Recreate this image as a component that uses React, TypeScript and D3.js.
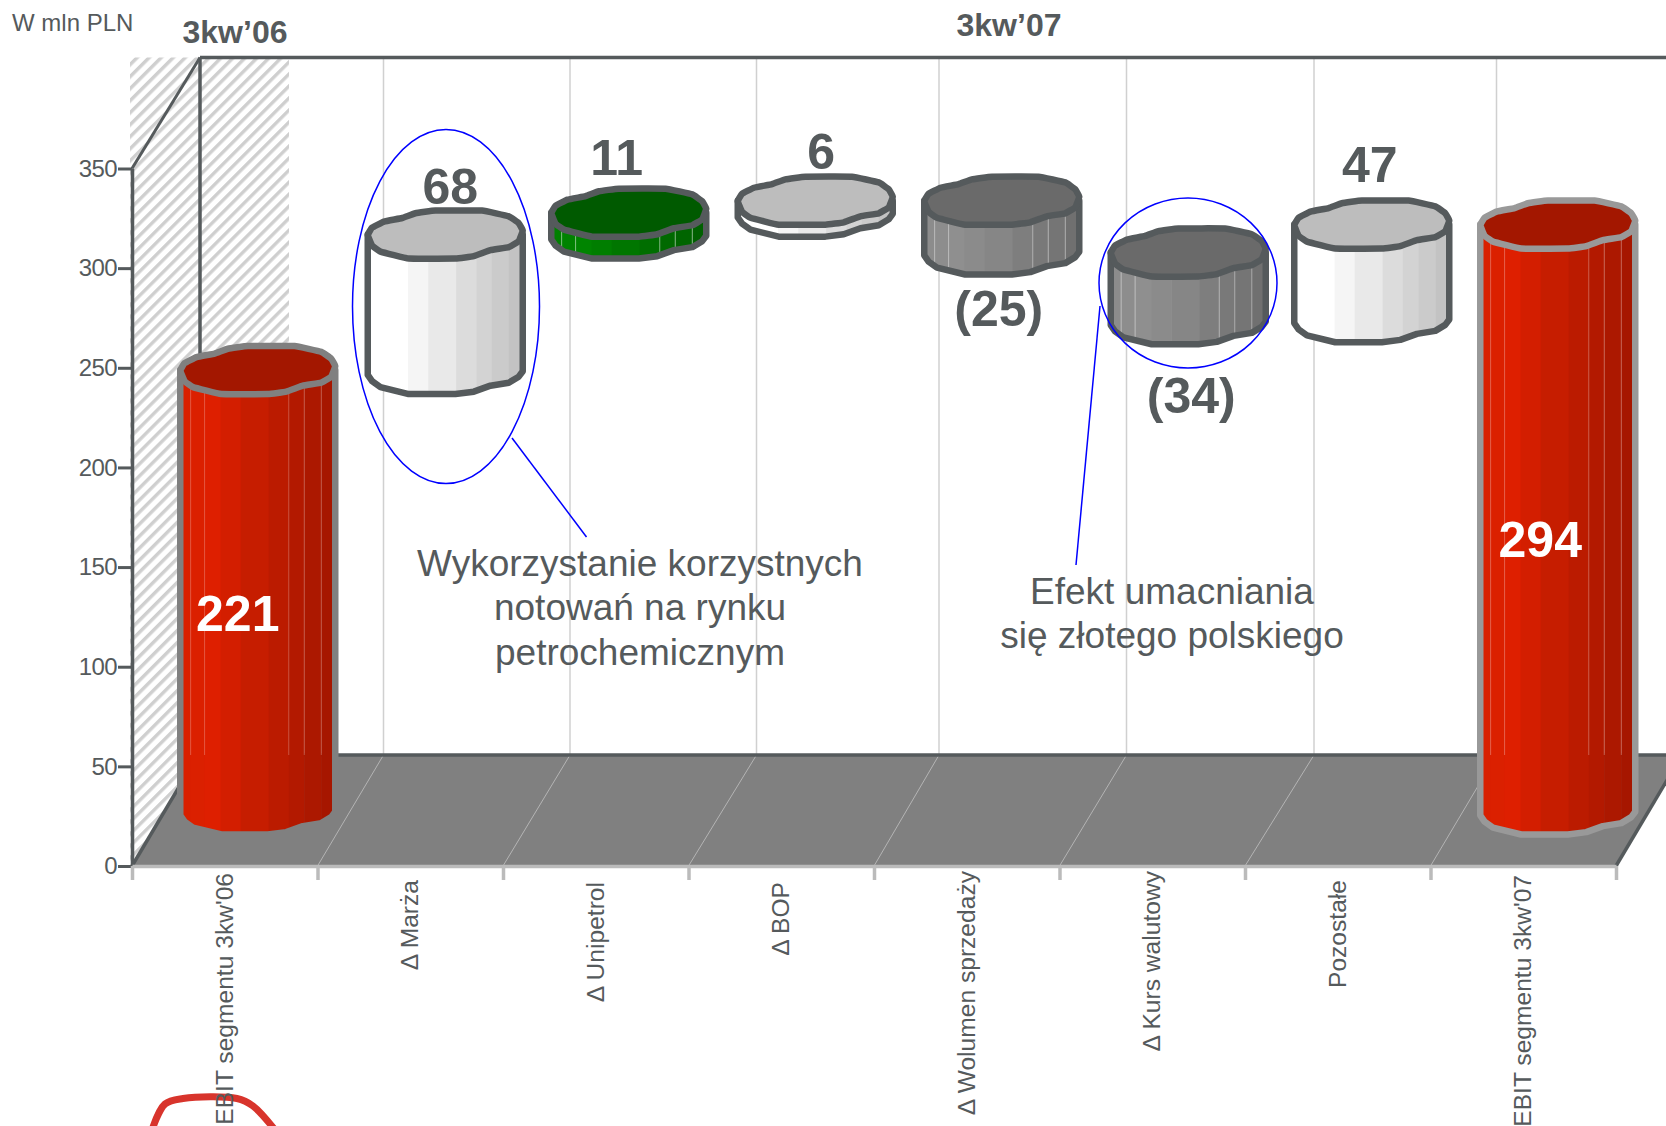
import React, { useEffect, useRef } from "react";
import * as d3 from "d3";

const categories = [
    "EBIT segmentu 3kw'06",
    "\u0394 Marża",
    "\u0394 Unipetrol",
    "\u0394 BOP",
    "\u0394 Wolumen sprzedaży",
    "\u0394 Kurs walutowy",
    "Pozostałe",
    "EBIT segmentu 3kw'07"
];
const values = [221, 68, 11, 6, -25, -34, 47, 294];
const isTotal = [true, false, false, false, false, false, false, true];
const tones = ["red", "white", "green", "white", "grey", "grey", "white", "red2"];
const yTicks = [0, 50, 100, 150, 200, 250, 300, 350];

// hand placed things in the original: small nudges from the computed place
const labelDx = [-20, 7, -12, 7, -1, 6, -1, -16];
const labelDy = [261, -31, -38, -32, 75, 95, -43, 332];
const barNudgeX = [0, 2, 0, 1, 2, 3, 1, 1.5];
const barNudgeY = [0, 0, 0, 0, 0, 2, 0, 0];
const gridNudge = [0, 1, 2, -1, 1, 3, 0];
// where along the category the rotated label ends (from the axis)
const catLabelTop = [873, 880, 882, 882, 871, 871, 880, 875];

// outline of the wobbly cylinder cap, in units of half width / half height
const capOutline: [number, number][] = [
    [-1, 0.02], [-0.944, -0.29], [-0.79, -0.54], [-0.557, -0.69], [-0.385, -0.89], [-0.127, -1],
    [0.475, -1], [0.82, -0.76], [0.948, -0.475], [1, -0.16], [0.948, 0.275], [0.82, 0.525],
    [0.583, 0.65], [0.368, 0.9], [0.131, 1], [-0.471, 1], [-0.836, 0.71], [-0.944, 0.46]
];
const sideOutline: [number, number][] = [
    [-1, 0.02], [-1, 0.2], [-0.944, 0.46], [-0.836, 0.71], [-0.471, 1], [0.131, 1], [0.368, 0.9],
    [0.583, 0.65], [0.82, 0.525], [0.948, 0.275], [1, 0.05], [1, -0.16]
];
const stripEdges = [0, 0.067, 0.157, 0.26, 0.39, 0.57, 0.7, 0.8, 0.91, 1];
const glossEdges = [0.067, 0.157, 0.7, 0.8, 0.91];

const toneStyle = {
    red: { top: "#a31700", stroke: "#808080", side: ["#d92000", "#de1f00", "#c61d00", "#a01500"], gloss: 0.25 },
    red2: { top: "#a31700", stroke: "#999999", side: ["#d92000", "#de1f00", "#c61d00", "#a01500"], gloss: 0.3 },
    white: { top: "#bdbdbd", stroke: "#555a5c", side: ["#ffffff", "#ffffff", "#e9e9e9", "#bdbdbd"], gloss: 0 },
    green: { top: "#005a00", stroke: "#555a5c", side: ["#008000", "#008400", "#007600", "#005c00"], gloss: 0.5 },
    grey: { top: "#6a6a6a", stroke: "#555a5c", side: ["#8c8c8c", "#8f8f8f", "#868686", "#6c6c6c"], gloss: 0.4 }
};

const DARK = "#555a5c";
const FONT = "'Liberation Sans', Arial, sans-serif";

export default function App() {
    const svgRef = useRef<SVGSVGElement>(null);
    const width = 1666;
    const height = 1126;

    useEffect(() => {
        const svg = d3.select(svgRef.current);
        svg.selectAll("*").remove(); // Clear previous render

        const depthX = 66;
        const depthY = 111;
        const wallX = 200;
        const halfW = 77.5;
        const halfH = 24;

        const xEdge = d3.scaleLinear().domain([0, categories.length]).range([132, 1616]);
        const y = d3.scaleLinear().domain([0, 350]).range([866, 168.5]);
        const topY = y(350) - depthY;
        const backY = y(0) - depthY;

        // waterfall ends
        let running = 0;
        const bars = values.map((v, i) => {
            const from = isTotal[i] ? 0 : running;
            const to = isTotal[i] ? v : running + v;
            running = to;
            return { i, v, hi: Math.max(from, to), lo: Math.min(from, to), tone: tones[i] };
        });

        const defs = svg.append("defs");
        const hatch = defs
            .append("pattern")
            .attr("id", "hatch")
            .attr("patternUnits", "userSpaceOnUse")
            .attr("width", 8.5)
            .attr("height", 8.5)
            .attr("patternTransform", "rotate(45)");
        hatch.append("rect").attr("width", 8.5).attr("height", 8.5).attr("fill", "#ffffff");
        hatch.append("rect").attr("width", 3.4).attr("height", 8.5).attr("fill", "#cfcfcf");

        svg.append("rect").attr("width", width).attr("height", height).attr("fill", "#ffffff");
        svg.append("rect")
            .attr("x", 130)
            .attr("y", topY)
            .attr("width", 159)
            .attr("height", y(0) - topY)
            .attr("fill", "url(#hatch)");

        // back wall gridlines
        svg.append("g")
            .selectAll("line")
            .data(d3.range(1, categories.length))
            .enter()
            .append("line")
            .attr("x1", d => xEdge(d) + depthX + gridNudge[d - 1])
            .attr("x2", d => xEdge(d) + depthX + gridNudge[d - 1])
            .attr("y1", topY)
            .attr("y2", backY)
            .attr("stroke", "#d0d0d0")
            .attr("stroke-width", 1.5);

        // floor
        const floor = d3.line();
        svg.append("path")
            .attr("d", floor([
                [xEdge(0), y(0)],
                [xEdge(8), y(0)],
                [xEdge(8) + depthX, backY],
                [xEdge(0) + depthX, backY]
            ]) + "Z")
            .attr("fill", "#808080");

        svg.append("g")
            .selectAll("line")
            .data(d3.range(1, categories.length))
            .enter()
            .append("line")
            .attr("x1", d => xEdge(d))
            .attr("x2", d => xEdge(d) + depthX + gridNudge[d - 1])
            .attr("y1", y(0))
            .attr("y2", backY)
            .attr("stroke", "#b4b4b4")
            .attr("stroke-width", 1);

        const frame = (x1, y1, x2, y2, w = 3.5) =>
            svg.append("line")
                .attr("x1", x1)
                .attr("y1", y1)
                .attr("x2", x2)
                .attr("y2", y2)
                .attr("stroke", DARK)
                .attr("stroke-width", w);

        frame(wallX, topY, width, topY);
        frame(wallX, topY, wallX, backY);
        frame(xEdge(0) + depthX, backY, width, backY);
        frame(xEdge(0), y(350), wallX, topY, 3);
        frame(xEdge(0), y(0), xEdge(0) + depthX, backY);
        frame(xEdge(8), y(0), xEdge(8) + depthX, backY);

        // y axis
        const yAxis = svg
            .append("g")
            .attr("transform", `translate(${xEdge(0)},0)`)
            .call(d3.axisLeft(y).tickValues(yTicks).tickSize(14).tickSizeOuter(0).tickPadding(1));
        yAxis.select(".domain").attr("stroke", DARK).attr("stroke-width", 3.5);
        yAxis.selectAll(".tick line").attr("stroke", DARK).attr("stroke-width", 3);
        yAxis.selectAll(".tick text")
            .attr("fill", DARK)
            .style("font-family", FONT)
            .style("font-size", "24px")
            .style("letter-spacing", "-0.6px");

        // x axis
        const xAxis = svg
            .append("g")
            .attr("transform", `translate(0,${y(0)})`)
            .call(d3.axisBottom(xEdge).tickValues(d3.range(0, categories.length + 1)).tickSize(14).tickSizeOuter(0).tickFormat(() => ""));
        xAxis.select(".domain").attr("stroke", "#bbbbbb").attr("stroke-width", 3.5);
        xAxis.selectAll(".tick line").attr("stroke", "#bbbbbb").attr("stroke-width", 3.5);

        // red scribble cut off at the bottom of the slide
        svg.append("path")
            .attr("d", d3.line().curve(d3.curveCatmullRom)([[152, 1130], [165, 1104], [183, 1098.5], [237, 1098.5], [253, 1106], [275, 1130]]))
            .attr("fill", "none")
            .attr("stroke", "#d8342c")
            .attr("stroke-width", 7);

        svg.append("g")
            .selectAll("text")
            .data(categories)
            .enter()
            .append("text")
            .attr("transform", (d, i) => `translate(${xEdge(i + 0.5) + 8},${catLabelTop[i]}) rotate(-90)`)
            .attr("text-anchor", "end")
            .attr("fill", DARK)
            .style("font-family", FONT)
            .style("font-size", "24.6px")
            .text(d => d);

        // cylinders
        const capLine = d3.line().curve(d3.curveCardinalClosed.tension(0.75));
        const polyClosed = d3.line().curve(d3.curveLinearClosed);
        const barCx = i => xEdge(i + 0.5) + depthX / 2;
        const barY = v => y(v) - depthY / 2;

        bars.forEach(b => {
            const st = toneStyle[b.tone];
            const cx = barCx(b.i) + barNudgeX[b.i];
            const yHi = barY(b.hi) + barNudgeY[b.i];
            const yLo = barY(b.lo) + barNudgeY[b.i];
            const xAt = d3.scaleLinear().domain([0, 1]).range([cx - halfW, cx + halfW]);
            const shade = d3.scaleLinear<string>().domain([0, 0.157, 0.39, 1]).range(st.side).interpolate(d3.interpolateRgb);
            const g = svg.append("g");

            const sidePts = sideOutline.map(([u, w]) => [cx + u * halfW, yLo + w * halfH] as [number, number]);
            const sidePath = polyClosed([[cx - halfW, yHi], ...sidePts, [cx + halfW, yHi]]);
            const clipId = `side-${b.i}`;
            defs.append("clipPath").attr("id", clipId).append("path").attr("d", sidePath);

            const side = g.append("g").attr("clip-path", `url(#${clipId})`);
            side.selectAll("rect")
                .data(d3.pairs(stripEdges))
                .enter()
                .append("rect")
                .attr("x", d => xAt(d[0]))
                .attr("width", d => xAt(d[1]) - xAt(d[0]) + 0.5)
                .attr("y", yHi - halfH)
                .attr("height", yLo - yHi + 2 * halfH)
                .attr("fill", d => shade(d[0]));
            if (st.gloss > 0) {
                side.selectAll("line")
                    .data(glossEdges)
                    .enter()
                    .append("line")
                    .attr("x1", d => xAt(d))
                    .attr("x2", d => xAt(d))
                    .attr("y1", yHi)
                    .attr("y2", Math.min(yLo + halfH, backY))
                    .attr("stroke", "#ffffff")
                    .attr("stroke-opacity", st.gloss)
                    .attr("stroke-width", 1);
            }
            g.append("path")
                .attr("d", sidePath)
                .attr("fill", "none")
                .attr("stroke", st.stroke)
                .attr("stroke-width", 6.5)
                .attr("stroke-linejoin", "round");
            g.append("path")
                .attr("d", capLine(capOutline.map(([u, w]) => [cx + u * halfW, yHi + w * halfH])))
                .attr("fill", st.top)
                .attr("stroke", st.stroke)
                .attr("stroke-width", 6.5)
                .attr("stroke-linejoin", "round");
        });

        // value labels
        svg.append("g")
            .selectAll("text")
            .data(bars)
            .enter()
            .append("text")
            .attr("x", b => barCx(b.i) + labelDx[b.i])
            .attr("y", b => barY(b.v < 0 ? b.lo : b.hi) + labelDy[b.i])
            .attr("text-anchor", "middle")
            .attr("fill", b => (isTotal[b.i] ? "#ffffff" : DARK))
            .style("font-family", FONT)
            .style("font-weight", "bold")
            .style("font-size", "50px")
            .text(b => (b.v < 0 ? `(${-b.v})` : b.v));

        // blue call-outs
        const callout = svg.append("g").attr("fill", "none").attr("stroke", "#0000ff").attr("stroke-width", 1.5);
        callout.append("ellipse").attr("cx", 446).attr("cy", 306.5).attr("rx", 93.5).attr("ry", 177);
        callout.append("ellipse").attr("cx", 1188).attr("cy", 283).attr("rx", 89).attr("ry", 85);
        callout.append("line").attr("x1", 512).attr("y1", 438).attr("x2", 586.5).attr("y2", 537);
        callout.append("line").attr("x1", 1100).attr("y1", 306).attr("x2", 1076).attr("y2", 565);

        const note = (txt, x, yy, size, weight = "normal", anchor = "middle") =>
            svg.append("text")
                .attr("x", x)
                .attr("y", yy)
                .attr("text-anchor", anchor)
                .attr("fill", DARK)
                .style("font-family", FONT)
                .style("font-size", `${size}px`)
                .style("font-weight", weight)
                .text(txt);

        note("W mln PLN", 12, 31, 24, "normal", "start");
        note("3kw\u201906", 235, 43, 32, "bold");
        note("3kw\u201907", 1009, 36, 32, "bold");
        note("Wykorzystanie korzystnych", 640, 576, 37);
        note("notowań na rynku", 640, 620, 37);
        note("petrochemicznym", 640, 665, 37);
        note("Efekt umacniania", 1172, 604, 37);
        note("się złotego polskiego", 1172, 648, 37);
    }, []);

    return (
        <svg
            ref={svgRef}
            width={width}
            height={height}
            style={{ position: "absolute", left: 0, top: 0, display: "block" }}
        />
    );
}
